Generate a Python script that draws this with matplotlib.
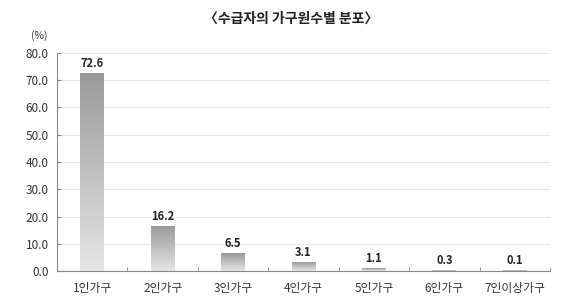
import matplotlib
matplotlib.use("Agg")
import matplotlib.pyplot as plt
import numpy as np
from matplotlib.colors import LinearSegmentedColormap

plt.rcParams['font.family'] = ['Noto Sans CJK KR', 'DejaVu Sans']

categories = ['1인가구', '2인가구', '3인가구', '4인가구', '5인가구', '6인가구', '7인이상가구']
values = [72.6, 16.2, 6.5, 3.1, 1.1, 0.3, 0.1]
yticks = [0, 10, 20, 30, 40, 50, 60, 70, 80]
title = '〈수급자의 가구원수별 분포〉'

fig = plt.figure(figsize=(5.82, 3.06), dpi=100)
ax = fig.add_axes([0.098, 0.114, 0.847, 0.713])

cmap = LinearSegmentedColormap.from_list('g', ['#e6e6e6', '#9a9a9a'])
grad = np.linspace(0, 1, 256).reshape(-1, 1)
w = 0.34
x = np.arange(len(categories))
for xi, v in zip(x, values):
    ax.imshow(grad, cmap=cmap, origin='lower', aspect='auto',
              extent=[xi - w / 2, xi + w / 2, 0, v], zorder=2, interpolation='bilinear')
    ax.text(xi, v + 1.3, f'{v:.1f}', ha='center', va='bottom', fontsize=8,
            fontweight='bold', color='#222222')

ax.set_xlim(-0.5, len(categories) - 0.5)
ax.set_ylim(0, 80)
ax.set_yticks(yticks)
ax.set_yticklabels([f'{t:.1f}' for t in yticks], fontsize=8.5, color='#333333')
ax.set_xticks(x)
ax.set_xticklabels(categories, fontsize=8.5, color='#333333')
ax.tick_params(axis='x', length=0, pad=8)
ax.set_xticks(np.arange(len(categories) + 1) - 0.5, minor=True)
ax.tick_params(axis='x', which='minor', direction='in', length=3, color='#888888')
ax.tick_params(axis='y', direction='in', length=3, color='#888888', pad=6)
ax.grid(axis='y', color='#e6e6e6', linewidth=0.8, zorder=0)
ax.set_axisbelow(True)
for s in ['top', 'right']:
    ax.spines[s].set_visible(False)
for s in ['left', 'bottom']:
    ax.spines[s].set_color('#888888')
    ax.spines[s].set_linewidth(0.8)

fig.text(0.5, 0.94, title, ha='center', va='center', fontsize=10, fontweight='bold', color='#222222')
fig.text(0.068, 0.885, '(%)', ha='center', va='center', fontsize=7.5, color='#333333')

fig.savefig('out.png', dpi=100)
